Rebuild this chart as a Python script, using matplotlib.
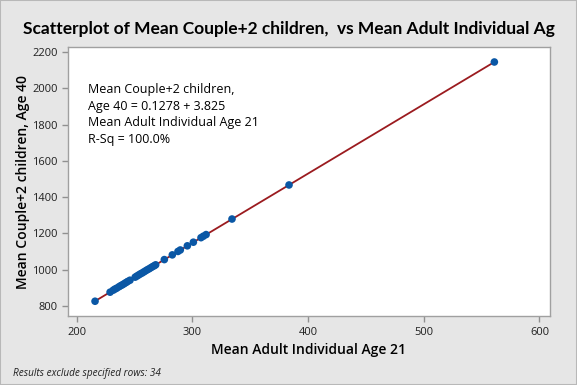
import matplotlib
matplotlib.use("Agg")
import matplotlib.pyplot as plt
from matplotlib.patches import Rectangle

x_vals = [215.8, 228.8, 231.5, 233.0, 234.5, 236.5, 238.0, 239.5, 241.0, 242.5,
          244.0, 246.0, 250.5, 252.0, 253.5, 255.0, 256.5, 258.0, 259.5, 261.0,
          262.5, 264.0, 265.5, 267.0, 268.2, 275.7, 282.6, 287.5, 289.5, 295.6,
          300.8, 307.4, 309.4, 311.8, 334.2, 383.5, 561.0]
y_vals = [825, 875, 886, 892, 897, 905, 911, 916, 922, 928,
          934, 941, 958, 964, 970, 976, 981, 987, 993, 999,
          1004, 1010, 1016, 1021, 1026, 1055, 1081, 1100, 1108, 1131,
          1151, 1176, 1184, 1193, 1279, 1467, 2146]
intercept = 0.1278
slope = 3.825
x_ticks = [200, 300, 400, 500, 600]
y_ticks = [800, 1000, 1200, 1400, 1600, 1800, 2000, 2200]

plt.rcParams['font.family'] = ['Open Sans', 'DejaVu Sans']

fig = plt.figure(figsize=(5.77, 3.85), dpi=100, facecolor='#e6e6e6')
ax = fig.add_axes([0.118, 0.179, 0.835, 0.699])
ax.set_facecolor('white')

xl = [min(x_vals), max(x_vals)]
ax.plot(xl, [intercept + slope * v for v in xl], color='#9b1b1f', lw=1.3, zorder=2)
ax.scatter(x_vals, y_vals, s=30, color='#0a57a5', zorder=3, edgecolors='none')

ax.set_xlim(192.5, 609)
ax.set_ylim(743, 2229)
ax.set_xticks(x_ticks)
ax.set_yticks(y_ticks)
ax.tick_params(colors='#909090', labelcolor='#202020', labelsize=8, length=4, width=1)
for s in ax.spines.values():
    s.set_color('#a0a0a0')
    s.set_linewidth(1)

ax.set_xlabel('Mean Adult Individual Age 21', fontsize=10, fontweight='semibold',
              color='black', labelpad=4)
ax.set_ylabel('Mean Couple+2 children, Age 40', fontsize=10, fontweight='semibold',
              color='black', labelpad=1.5)

fig.text(0.5, 0.925, 'Scatterplot of Mean Couple+2 children,  vs Mean Adult Individual Ag',
         ha='center', va='center', fontsize=12.5, fontweight='bold', color='black',
         family=['Lato', 'DejaVu Sans'])

ax.text(0.042, 0.865,
        'Mean Couple+2 children,\nAge 40 = 0.1278 + 3.825\nMean Adult Individual Age 21\nR-Sq = 100.0%',
        transform=ax.transAxes, ha='left', va='top', fontsize=9, linespacing=1.35, color='black')

fig.text(0.022, 0.031, 'Results exclude specified rows: 34', ha='left', va='center',
         fontsize=7.2, style='italic', color='#202020')

fig.patches.append(Rectangle((0, 0), 1, 1, transform=fig.transFigure, fill=False,
                             edgecolor='#b8b8b8', lw=1.5))

fig.savefig('out.png', dpi=100, facecolor=fig.get_facecolor())
